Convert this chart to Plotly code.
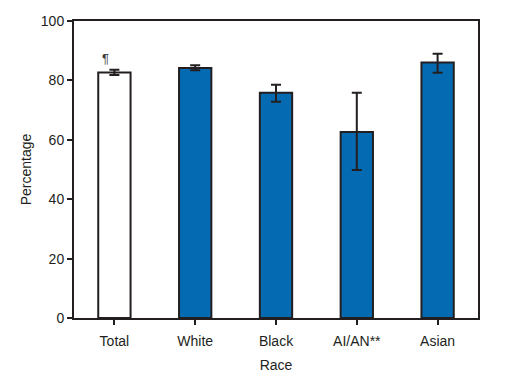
import plotly.graph_objects as go

categories = ["Total", "White", "Black", "AI/AN**", "Asian"]
values = [82.7, 84.2, 75.8, 62.6, 86.0]
err_plus = [0.9, 0.9, 2.7, 13.2, 3.0]
err_minus = [0.9, 0.8, 3.0, 12.8, 3.4]
fill_colors = ["#FFFFFF", "#046BB2", "#046BB2", "#046BB2", "#046BB2"]
y_ticks = [0, 20, 40, 60, 80, 100]

dark = "#231F20"
font_family = "Liberation Sans, Arial, Helvetica, sans-serif"

fig = go.Figure()
fig.add_trace(go.Bar(
    x=categories,
    y=values,
    width=0.4,
    marker=dict(color=fill_colors, line=dict(color=dark, width=2)),
    error_y=dict(type="data", symmetric=False, array=err_plus, arrayminus=err_minus,
                 color=dark, thickness=2, width=5),
    showlegend=False,
))

fig.add_annotation(x=categories[0], y=values[0] + err_plus[0], text="¶",
                   xref="x", yref="y", xshift=-9, yshift=11, showarrow=False,
                   font=dict(size=13, color="#3a3a3a", family=font_family))

fig.update_layout(
    width=498, height=370,
    margin=dict(l=66, r=28, t=13, b=60),
    paper_bgcolor="white", plot_bgcolor="white",
    font=dict(family=font_family, size=14, color=dark),
)
fig.update_xaxes(
    title=dict(text="Race", font=dict(size=14), standoff=12),
    showline=True, linecolor=dark, linewidth=2, mirror=True,
    ticks="outside", ticklen=5, tickwidth=2, tickcolor=dark,
    ticklabelstandoff=4, automargin=False,
    range=[-0.5, 4.5], showgrid=False,
)
fig.update_yaxes(
    title=dict(text="Percentage", font=dict(size=14), standoff=6),
    range=[0, 100], tickvals=y_ticks, automargin=False,
    showline=True, linecolor=dark, linewidth=2, mirror=True,
    ticks="outside", ticklen=5, tickwidth=2, tickcolor=dark,
    showgrid=False, zeroline=False,
)

fig.write_html("out.html")
